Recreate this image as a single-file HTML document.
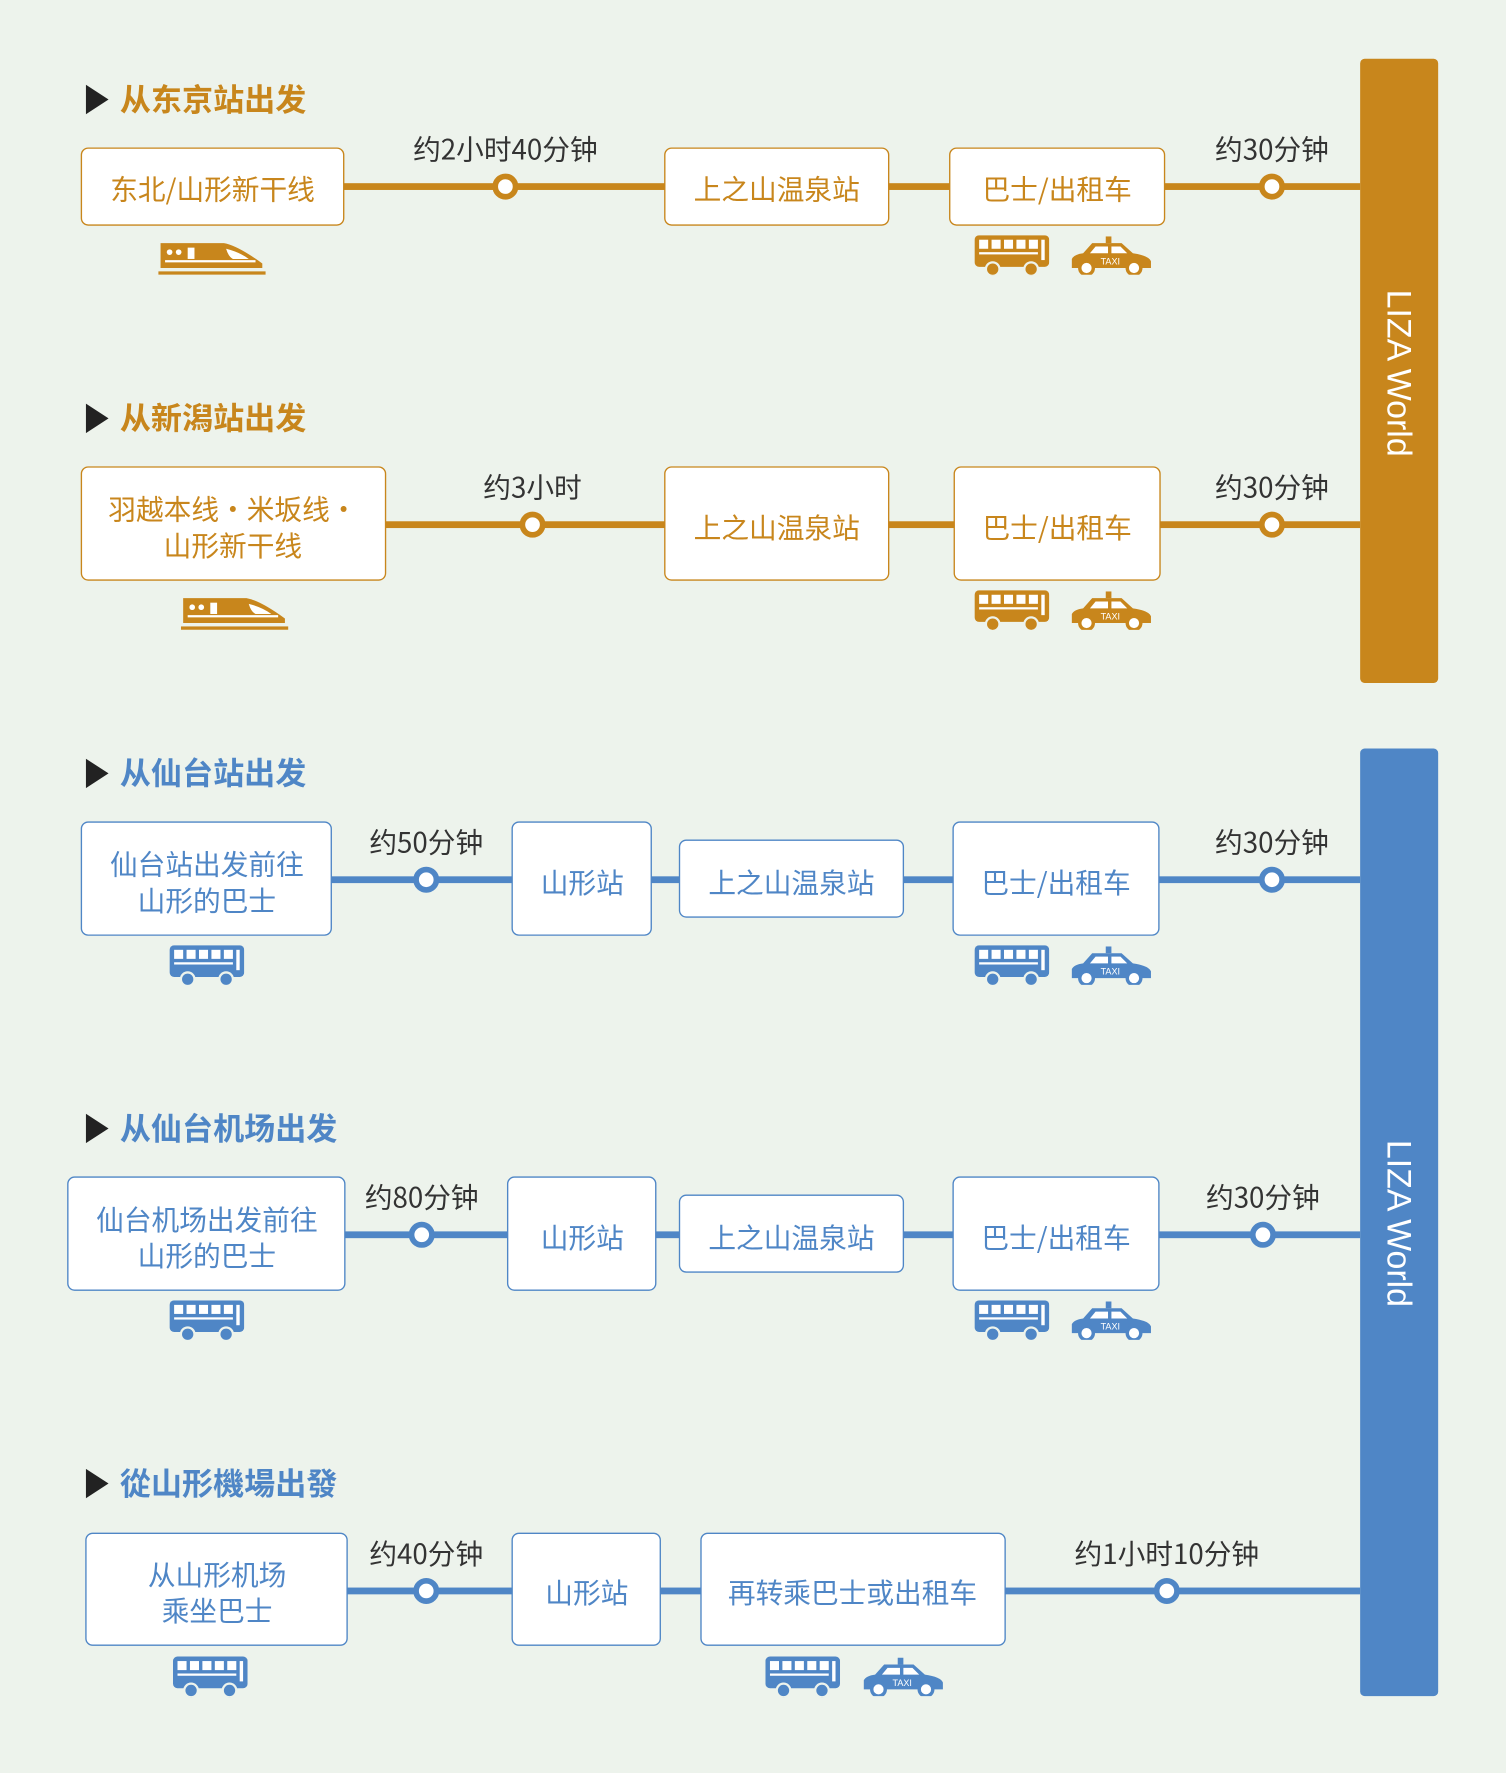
<!DOCTYPE html>
<html><head><meta charset="utf-8"><style>
html,body{margin:0;padding:0;background:#edf3ec;}
svg{display:block}
text{font-family:"Noto Sans CJK SC","Liberation Sans",sans-serif;}
.t{font-size:27.5px;font-weight:bold}
.b{font-size:24.5px;text-anchor:middle;dominant-baseline:central}
.l{font-size:24.5px;text-anchor:middle;fill:#333}
.lz{font-family:"Liberation Sans",sans-serif;}
</style></head><body>
<svg width="1506" height="1773" viewBox="0 0 1332 1568" preserveAspectRatio="none" xmlns="http://www.w3.org/2000/svg">
<defs>
<symbol id="bus" viewBox="0 0 66 36"><rect x="0" y="0" width="66" height="28" rx="4" fill="currentColor"/><rect x="4" y="4" width="8" height="8" fill="#fff"/><rect x="15" y="4" width="8" height="8" fill="#fff"/><rect x="26" y="4" width="8" height="8" fill="#fff"/><rect x="37" y="4" width="8" height="8" fill="#fff"/><rect x="48" y="4" width="8" height="8" fill="#fff"/><rect x="59" y="4" width="3" height="18" fill="#fff"/><rect x="4" y="15" width="52" height="2" fill="#fff"/><circle cx="16" cy="30" r="6" fill="currentColor" stroke="#edf3ec" stroke-width="2"/><circle cx="50" cy="30" r="6" fill="currentColor" stroke="#edf3ec" stroke-width="2"/></symbol>
<symbol id="taxi" viewBox="0 0 72 34"><rect x="32" y="0" width="5" height="6" fill="currentColor"/><path d="M2 28 L2 20 Q4 16 12 15 L20 6 L46 6 L56 15 Q70 17 72 22 L72 28 Z" fill="currentColor"/><path d="M23 9 L34 9 L34 15 L18 15 Z M37 9 L45 9 L51 15 L37 15 Z" fill="#fff"/><text class="lz" x="36" y="25" font-size="8" fill="#fff" text-anchor="middle">TAXI</text><circle cx="15" cy="28" r="6" fill="#fff" stroke="currentColor" stroke-width="3"/><circle cx="57" cy="28" r="6" fill="#fff" stroke="currentColor" stroke-width="3"/></symbol>
<symbol id="train" viewBox="0 0 95 30"><path d="M2 2 L58 2 Q70 4 92 20 L92 24 L2 24 Z" fill="currentColor"/><path d="M6 18 L86 18" stroke="#fff" stroke-width="2"/><circle cx="10" cy="10" r="2.5" fill="#fff"/><circle cx="18" cy="10" r="2.5" fill="#fff"/><rect x="26" y="6" width="6" height="10" fill="#fff"/><path d="M60 7 Q72 10 80 16 L66 16 Q62 14 60 7 Z" fill="#fff"/><rect x="0" y="27" width="95" height="3" fill="currentColor"/></symbol>
</defs>
<rect width="1332" height="1568" fill="#edf3ec"/>

<g fill="#c8861c">
<rect x="1203" y="52" width="69" height="552" rx="4"/>
<rect x="304" y="162" width="284" height="6"/><rect x="786" y="162" width="54" height="6"/><rect x="1030" y="162" width="173" height="6"/>
<rect x="341" y="461" width="247" height="6"/><rect x="786" y="461" width="58" height="6"/><rect x="1026" y="461" width="177" height="6"/>
</g>
<text class="lz" x="1237" y="330" font-size="30" fill="#fff" text-anchor="middle" dominant-baseline="central" transform="rotate(90 1237 330)">LIZA World</text>
<g fill="#fff" stroke="#c8861c" stroke-width="1.2">
<rect x="72" y="131" width="232" height="68" rx="6"/><rect x="588" y="131" width="198" height="68" rx="6"/><rect x="840" y="131" width="190" height="68" rx="6"/>
<rect x="72" y="413" width="269" height="100" rx="6"/><rect x="588" y="413" width="198" height="100" rx="6"/><rect x="844" y="413" width="182" height="100" rx="6"/>
</g>
<g fill="#fff" stroke="#c8861c" stroke-width="5">
<circle cx="447" cy="165" r="9"/><circle cx="1125" cy="165" r="9"/><circle cx="471" cy="464" r="9"/><circle cx="1125" cy="464" r="9"/>
</g>
<g fill="#c8861c">
<text class="b" x="188" y="166">东北/山形新干线</text><text class="b" x="687" y="166">上之山温泉站</text><text class="b" x="935" y="166">巴士/出租车</text>
<text class="b" x="206" y="449">羽越本线・米坂线・</text><text class="b" x="206" y="481">山形新干线</text><text class="b" x="687" y="465">上之山温泉站</text><text class="b" x="935" y="465">巴士/出租车</text>
</g>
<text class="t" x="106" y="98" fill="#c8861c">从东京站出发</text>
<text class="t" x="106" y="380" fill="#c8861c">从新潟站出发</text>
<text class="l" x="447" y="141">约2小时40分钟</text><text class="l" x="1125" y="141">约30分钟</text>
<text class="l" x="471" y="440">约3小时</text><text class="l" x="1125" y="440">约30分钟</text>
<g color="#c8861c">
<use href="#train" x="140" y="213" width="95" height="30"/><use href="#train" x="160" y="527" width="95" height="30"/>
<use href="#bus" x="862" y="208" width="66" height="36"/><use href="#taxi" x="946" y="209" width="72" height="34"/>
<use href="#bus" x="862" y="522" width="66" height="36"/><use href="#taxi" x="946" y="523" width="72" height="34"/>
</g>

<g fill="#4f86c6">
<rect x="1203" y="662" width="69" height="838" rx="4"/>
<rect x="293" y="775" width="160" height="6"/><rect x="576" y="775" width="25" height="6"/><rect x="799" y="775" width="44" height="6"/><rect x="1025" y="775" width="178" height="6"/>
<rect x="305" y="1089" width="144" height="6"/><rect x="580" y="1089" width="21" height="6"/><rect x="799" y="1089" width="44" height="6"/><rect x="1025" y="1089" width="178" height="6"/>
<rect x="307" y="1404" width="146" height="6"/><rect x="584" y="1404" width="36" height="6"/><rect x="889" y="1404" width="314" height="6"/>
</g>
<text class="lz" x="1237" y="1082" font-size="30" fill="#fff" text-anchor="middle" dominant-baseline="central" transform="rotate(90 1237 1082)">LIZA World</text>
<g fill="#fff" stroke="#4f86c6" stroke-width="1.2">
<rect x="72" y="727" width="221" height="100" rx="6"/><rect x="453" y="727" width="123" height="100" rx="6"/><rect x="601" y="743" width="198" height="68" rx="6"/><rect x="843" y="727" width="182" height="100" rx="6"/>
<rect x="60" y="1041" width="245" height="100" rx="6"/><rect x="449" y="1041" width="131" height="100" rx="6"/><rect x="601" y="1057" width="198" height="68" rx="6"/><rect x="843" y="1041" width="182" height="100" rx="6"/>
<rect x="76" y="1356" width="231" height="99" rx="6"/><rect x="453" y="1356" width="131" height="99" rx="6"/><rect x="620" y="1356" width="269" height="99" rx="6"/>
</g>
<g fill="#fff" stroke="#4f86c6" stroke-width="5">
<circle cx="377" cy="778" r="9"/><circle cx="1125" cy="778" r="9"/><circle cx="373" cy="1092" r="9"/><circle cx="1117" cy="1092" r="9"/><circle cx="377" cy="1407" r="9"/><circle cx="1032" cy="1407" r="9"/>
</g>
<g fill="#4f86c6">
<text class="b" x="183" y="763">仙台站出发前往</text><text class="b" x="183" y="795">山形的巴士</text><text class="b" x="515" y="779">山形站</text><text class="b" x="700" y="779">上之山温泉站</text><text class="b" x="934" y="779">巴士/出租车</text>
<text class="b" x="183" y="1077">仙台机场出发前往</text><text class="b" x="183" y="1109">山形的巴士</text><text class="b" x="515" y="1093">山形站</text><text class="b" x="700" y="1093">上之山温泉站</text><text class="b" x="934" y="1093">巴士/出租车</text>
<text class="b" x="192" y="1391">从山形机场</text><text class="b" x="192" y="1423">乘坐巴士</text><text class="b" x="519" y="1407">山形站</text><text class="b" x="754" y="1407">再转乘巴士或出租车</text>
</g>
<text class="t" x="106" y="694" fill="#4f86c6">从仙台站出发</text>
<text class="t" x="106" y="1008" fill="#4f86c6">从仙台机场出发</text>
<text class="t" x="106" y="1322" fill="#4f86c6">從山形機場出發</text>
<text class="l" x="377" y="754">约50分钟</text><text class="l" x="1125" y="754">约30分钟</text>
<text class="l" x="373" y="1068">约80分钟</text><text class="l" x="1117" y="1068">约30分钟</text>
<text class="l" x="377" y="1383">约40分钟</text><text class="l" x="1032" y="1383">约1小时10分钟</text>
<g color="#4f86c6">
<use href="#bus" x="150" y="836" width="66" height="36"/><use href="#bus" x="862" y="836" width="66" height="36"/><use href="#taxi" x="946" y="837" width="72" height="34"/>
<use href="#bus" x="150" y="1150" width="66" height="36"/><use href="#bus" x="862" y="1150" width="66" height="36"/><use href="#taxi" x="946" y="1151" width="72" height="34"/>
<use href="#bus" x="153" y="1465" width="66" height="36"/><use href="#bus" x="677" y="1465" width="66" height="36"/><use href="#taxi" x="762" y="1466" width="72" height="34"/>
</g>

<g fill="#222">
<path d="M76 75 L96 88 L76 101 Z"/><path d="M76 357 L96 370 L76 383 Z"/><path d="M76 671 L96 684 L76 697 Z"/><path d="M76 985 L96 998 L76 1011 Z"/><path d="M76 1299 L96 1312 L76 1325 Z"/>
</g>
</svg>
</body></html>
